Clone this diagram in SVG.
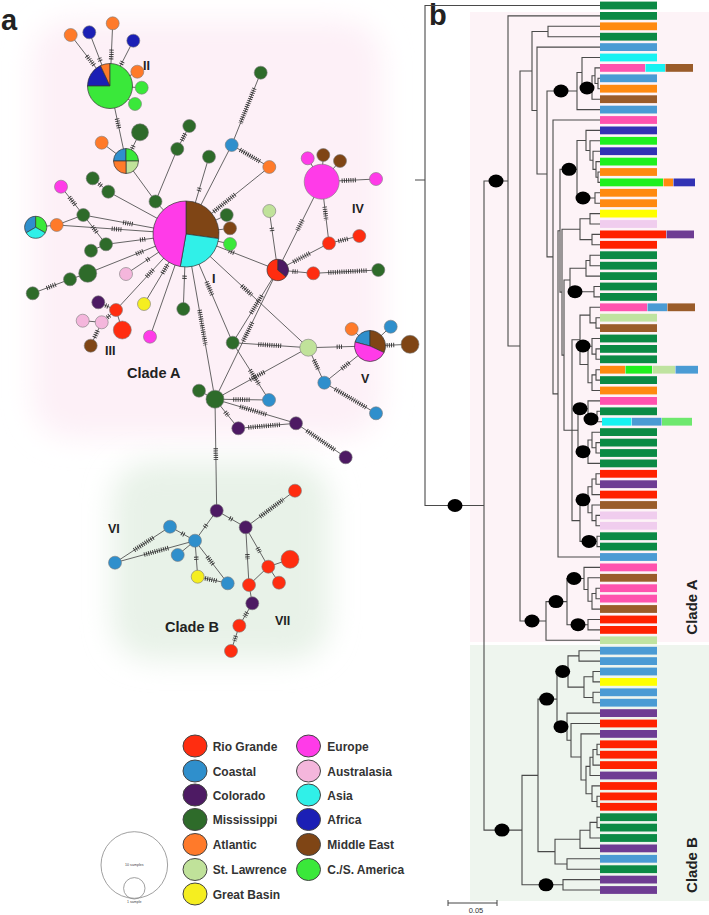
<svg xmlns="http://www.w3.org/2000/svg" width="709" height="915" viewBox="0 0 709 915">
<defs>
<filter id="blur" x="-30%" y="-30%" width="160%" height="160%"><feGaussianBlur stdDeviation="14"/></filter>
<style>
.e{stroke:#555;stroke-width:0.9;fill:none}
.h{stroke:#333;stroke-width:4.5;stroke-dasharray:0.9 1.3;fill:none}
.nd circle,.nd path{stroke:#7a7a7a;stroke-width:0.6}
.pie path{stroke:#333;stroke-width:0.7}
.RG{fill:#ff2d10}.CO{fill:#2f8fcc}.CL{fill:#4d1a63}.MS{fill:#2e6b2a}.AT{fill:#ff7a2a}.SL{fill:#c0e29a}.GB{fill:#f5ee20}
.EU{fill:#ff3be8}.AU{fill:#f4b6dc}.AS{fill:#30f0e8}.AF{fill:#1b1fb5}.ME{fill:#7f4515}.CS{fill:#3ae83a}
.tr{stroke:#4a4a4a;stroke-width:1.1;fill:none}
.dot{fill:#000}
.tMS{fill:#0b8a45}.tAT{fill:#ff8a10}.tCO{fill:#4a9bd4}.tAS{fill:#18f2f2}.tEU{fill:#ff52ae}.tME{fill:#9a5c2a}.tAF{fill:#3232b4}
.tCS{fill:#1ff01f}.tCSL{fill:#6ee86e}.tGB{fill:#ffff00}.tAU{fill:#f0cdee}.tRG{fill:#ff2200}.tCL{fill:#6e3c93}.tSL{fill:#bfe3a0}
.lbl{font-family:"Liberation Sans",Arial,sans-serif;font-weight:bold;fill:#222}
.lg ellipse{stroke:#444;stroke-width:1}
.lgt{font-family:"Liberation Sans",Arial,sans-serif;font-weight:bold;font-size:12px;fill:#333}
</style>
</defs>
<rect width="709" height="915" fill="#fff"/>
<!-- panel a background tints -->
<rect x="32" y="20" width="350" height="418" rx="40" fill="#fdf0f7" filter="url(#blur)"/>
<rect x="112" y="462" width="218" height="198" rx="40" fill="#e8f2e8" filter="url(#blur)"/>
<!-- panel b backgrounds -->
<rect x="470" y="12" width="239" height="630" fill="#fdf3f7"/>
<rect x="470" y="645" width="239" height="256" fill="#eef5ee"/>

<text class="lbl" x="1" y="30" font-size="29">a</text>
<text class="lbl" x="429" y="25" font-size="29">b</text>

<g id="connectors">
<line class="e" x1="110" y1="86" x2="70.7" y2="35"/>
<line class="e" x1="110" y1="86" x2="89.3" y2="32.3"/>
<line class="e" x1="110" y1="86" x2="112.7" y2="23.3"/>
<line class="e" x1="110" y1="86" x2="133.3" y2="40.7"/>
<line class="e" x1="110" y1="86" x2="137.3" y2="71.7"/>
<line class="e" x1="110" y1="86" x2="141.7" y2="87.7"/>
<line class="e" x1="110" y1="86" x2="135" y2="104"/>
<line class="e" x1="110" y1="86" x2="126" y2="161"/>
<line class="e" x1="126" y1="161" x2="101.7" y2="142.7"/>
<line class="e" x1="126" y1="161" x2="140" y2="132.3"/>
<line class="e" x1="126" y1="161" x2="155.5" y2="201.5"/>
<line class="e" x1="189.3" y1="126" x2="177.3" y2="149"/>
<line class="e" x1="177.3" y1="149" x2="155.5" y2="201.5"/>
<line class="e" x1="155.5" y1="201.5" x2="186" y2="234"/>
<line class="e" x1="92.7" y1="178.3" x2="108.3" y2="191.7"/>
<line class="e" x1="108.3" y1="191.7" x2="186" y2="234"/>
<line class="e" x1="83.3" y1="215" x2="61" y2="186.7"/>
<line class="e" x1="83.3" y1="215" x2="56.7" y2="225"/>
<line class="e" x1="56.7" y1="225" x2="35.7" y2="227.3"/>
<line class="e" x1="83.3" y1="215" x2="186" y2="234"/>
<line class="e" x1="56.7" y1="225" x2="186" y2="234"/>
<line class="e" x1="83.3" y1="215" x2="106" y2="244.3"/>
<line class="e" x1="106" y1="244.3" x2="186" y2="234"/>
<line class="e" x1="91" y1="250.7" x2="106" y2="244.3"/>
<line class="e" x1="87.7" y1="273.3" x2="186" y2="234"/>
<line class="e" x1="70" y1="279.3" x2="87.7" y2="273.3"/>
<line class="e" x1="32.7" y1="293.3" x2="70" y2="279.3"/>
<line class="e" x1="126" y1="274" x2="186" y2="234"/>
<line class="e" x1="116" y1="310" x2="186" y2="234"/>
<line class="e" x1="98.3" y1="302.3" x2="116" y2="310"/>
<line class="e" x1="101.7" y1="322.3" x2="116" y2="310"/>
<line class="e" x1="82.7" y1="320.7" x2="101.7" y2="322.3"/>
<line class="e" x1="122.3" y1="330" x2="116" y2="310"/>
<line class="e" x1="90.7" y1="345.7" x2="101.7" y2="322.3"/>
<line class="e" x1="144" y1="304" x2="186" y2="234"/>
<line class="e" x1="150" y1="336.7" x2="186" y2="234"/>
<line class="e" x1="183.3" y1="309" x2="186" y2="234"/>
<line class="e" x1="186" y1="234" x2="226.7" y2="215"/>
<line class="e" x1="186" y1="234" x2="230" y2="228.3"/>
<line class="e" x1="186" y1="234" x2="230" y2="244"/>
<line class="e" x1="209" y1="156.7" x2="186" y2="234"/>
<line class="e" x1="231.7" y1="145" x2="186" y2="234"/>
<line class="e" x1="231.7" y1="145" x2="260.7" y2="72.7"/>
<line class="e" x1="231.7" y1="145" x2="269.3" y2="167"/>
<line class="e" x1="269.3" y1="167" x2="186" y2="234"/>
<line class="e" x1="269.3" y1="211" x2="277.7" y2="270"/>
<line class="e" x1="186" y1="234" x2="277.7" y2="270"/>
<line class="e" x1="321.7" y1="181.7" x2="277.7" y2="270"/>
<line class="e" x1="277.7" y1="270" x2="329" y2="243.3"/>
<line class="e" x1="329" y1="243.3" x2="359.3" y2="236"/>
<line class="e" x1="321.7" y1="181.7" x2="329" y2="243.3"/>
<line class="e" x1="277.7" y1="270" x2="313.3" y2="273.3"/>
<line class="e" x1="313.3" y1="273.3" x2="378.3" y2="270"/>
<line class="e" x1="321.7" y1="181.7" x2="307.7" y2="158.3"/>
<line class="e" x1="321.7" y1="181.7" x2="323.3" y2="155"/>
<line class="e" x1="321.7" y1="181.7" x2="340" y2="161"/>
<line class="e" x1="321.7" y1="181.7" x2="376" y2="179"/>
<line class="e" x1="186" y1="234" x2="232.7" y2="342.7"/>
<line class="e" x1="186" y1="234" x2="215" y2="399.2"/>
<line class="e" x1="186" y1="234" x2="308.3" y2="347.7"/>
<line class="e" x1="232.7" y1="342.7" x2="308.3" y2="347.7"/>
<line class="e" x1="232.7" y1="342.7" x2="269" y2="400"/>
<line class="e" x1="232.7" y1="342.7" x2="277.7" y2="270"/>
<line class="e" x1="215" y1="399.2" x2="277.7" y2="270"/>
<line class="e" x1="215" y1="399.2" x2="199" y2="390.7"/>
<line class="e" x1="215" y1="399.2" x2="308.3" y2="347.7"/>
<line class="e" x1="215" y1="399.2" x2="269" y2="400"/>
<line class="e" x1="215" y1="399.2" x2="296" y2="423.3"/>
<line class="e" x1="215" y1="399.2" x2="238.3" y2="428.3"/>
<line class="e" x1="238.3" y1="428.3" x2="296" y2="423.3"/>
<line class="e" x1="296" y1="423.3" x2="345.7" y2="457.3"/>
<line class="e" x1="308.3" y1="347.7" x2="370" y2="346"/>
<line class="e" x1="308.3" y1="347.7" x2="324.3" y2="382.7"/>
<line class="e" x1="324.3" y1="382.7" x2="370" y2="346"/>
<line class="e" x1="324.3" y1="382.7" x2="376" y2="413.3"/>
<line class="e" x1="370" y1="346" x2="351.7" y2="329"/>
<line class="e" x1="370" y1="346" x2="390.7" y2="326.7"/>
<line class="e" x1="370" y1="346" x2="410" y2="344.3"/>
<line class="e" x1="215" y1="399.2" x2="216.7" y2="510.7"/>
<line class="e" x1="216.7" y1="510.7" x2="245.7" y2="527.3"/>
<line class="e" x1="216.7" y1="510.7" x2="195" y2="540.7"/>
<line class="e" x1="195" y1="540.7" x2="170" y2="526.7"/>
<line class="e" x1="195" y1="540.7" x2="115" y2="562.7"/>
<line class="e" x1="170" y1="526.7" x2="115" y2="562.7"/>
<line class="e" x1="195" y1="540.7" x2="177.7" y2="555"/>
<line class="e" x1="195" y1="540.7" x2="197.7" y2="576.7"/>
<line class="e" x1="195" y1="540.7" x2="227.7" y2="583.3"/>
<line class="e" x1="197.7" y1="576.7" x2="227.7" y2="583.3"/>
<line class="e" x1="245.7" y1="527.3" x2="295" y2="490.7"/>
<line class="e" x1="245.7" y1="527.3" x2="249" y2="585"/>
<line class="e" x1="245.7" y1="527.3" x2="268.3" y2="566.7"/>
<line class="e" x1="268.3" y1="566.7" x2="290" y2="559.3"/>
<line class="e" x1="268.3" y1="566.7" x2="279" y2="582.7"/>
<line class="e" x1="268.3" y1="566.7" x2="249" y2="585"/>
<line class="e" x1="249" y1="585" x2="252.3" y2="603.3"/>
<line class="e" x1="252.3" y1="603.3" x2="239.3" y2="625.7"/>
<line class="e" x1="239.3" y1="625.7" x2="231" y2="651"/>
<!-- mutation hatches -->
<line class="h" x1="94" y1="65.2" x2="86.7" y2="55.8"/>
<line class="h" x1="100.4" y1="61" x2="98.9" y2="57.3"/>
<line class="h" x1="111.6" y1="49.6" x2="111.1" y2="59.7"/>
<line class="h" x1="122.6" y1="61.6" x2="120.7" y2="65.1"/>
<line class="h" x1="117" y1="118.6" x2="119" y2="128.4"/>
<line class="h" x1="132.1" y1="148.5" x2="133.9" y2="144.9"/>
<line class="h" x1="185.2" y1="133.9" x2="181.5" y2="141.1"/>
<line class="h" x1="99" y1="183.7" x2="102" y2="186.3"/>
<line class="h" x1="75.25" y1="204.8" x2="69.05" y2="196.9"/>
<line class="h" x1="123.1" y1="222.4" x2="132.9" y2="224.2"/>
<line class="h" x1="111.7" y1="228.8" x2="121.7" y2="229.5"/>
<line class="h" x1="92.2" y1="226.5" x2="97.1" y2="232.8"/>
<line class="h" x1="140" y1="239.9" x2="146" y2="239.1"/>
<line class="h" x1="136.1" y1="254" x2="143.5" y2="251"/>
<line class="h" x1="46.7" y1="288.1" x2="56" y2="284.5"/>
<line class="h" x1="146.5" y1="260.3" x2="149.9" y2="258.1"/>
<line class="h" x1="146.6" y1="276.8" x2="153.4" y2="269.4"/>
<line class="h" x1="105.3" y1="305.4" x2="109" y2="307"/>
<line class="h" x1="107.3" y1="317.5" x2="110.4" y2="314.8"/>
<line class="h" x1="94.5" y1="337.6" x2="97.9" y2="330.4"/>
<line class="h" x1="162.4" y1="273.3" x2="167.6" y2="264.7"/>
<line class="h" x1="184.4" y1="278.8" x2="184.6" y2="274.8"/>
<line class="h" x1="199.7" y1="188" x2="198.5" y2="191.8"/>
<line class="h" x1="254.4" y1="88.3" x2="240.4" y2="123.3"/>
<line class="h" x1="240" y1="149.8" x2="259.9" y2="161.5"/>
<line class="h" x1="235" y1="194.5" x2="213.3" y2="212"/>
<line class="h" x1="271.7" y1="227.9" x2="272.3" y2="231.9"/>
<line class="h" x1="229" y1="250.9" x2="234.6" y2="253.1"/>
<line class="h" x1="293.3" y1="261.9" x2="310" y2="253.2"/>
<line class="h" x1="338.3" y1="241.1" x2="348.3" y2="238.7"/>
<line class="h" x1="324.7" y1="206.7" x2="326.2" y2="220"/>
<line class="h" x1="292.5" y1="271.4" x2="297.5" y2="271.8"/>
<line class="h" x1="328.3" y1="272.5" x2="366.7" y2="270.6"/>
<line class="h" x1="341.7" y1="180.7" x2="356.7" y2="180"/>
<line class="h" x1="206.6" y1="281.9" x2="212.1" y2="294.8"/>
<line class="h" x1="199.5" y1="310" x2="205.5" y2="345"/>
<line class="h" x1="241.7" y1="285.7" x2="251.7" y2="295.1"/>
<line class="h" x1="258.3" y1="344.4" x2="281.7" y2="345.9"/>
<line class="h" x1="250" y1="370" x2="259.5" y2="385"/>
<line class="h" x1="250.9" y1="313.3" x2="262.2" y2="295"/>
<line class="h" x1="243.2" y1="341.1" x2="252.6" y2="321.7"/>
<line class="h" x1="250" y1="379.9" x2="265" y2="371.6"/>
<line class="h" x1="233.3" y1="399.5" x2="250" y2="399.7"/>
<line class="h" x1="240" y1="406.6" x2="266.7" y2="414.6"/>
<line class="h" x1="225.1" y1="411.8" x2="228.2" y2="415.7"/>
<line class="h" x1="248.3" y1="427.4" x2="280" y2="424.7"/>
<line class="h" x1="306.7" y1="430.6" x2="335" y2="450"/>
<line class="h" x1="336.7" y1="346.9" x2="343.3" y2="346.7"/>
<line class="h" x1="313.9" y1="360" x2="318.5" y2="370.1"/>
<line class="h" x1="341.7" y1="368.7" x2="350" y2="362.1"/>
<line class="h" x1="335" y1="389" x2="366.7" y2="407.8"/>
<line class="h" x1="386.7" y1="345.3" x2="395" y2="345"/>
<line class="h" x1="215.75" y1="448.3" x2="215.9" y2="460"/>
<line class="h" x1="229.5" y1="518" x2="232.9" y2="520"/>
<line class="h" x1="204.7" y1="527.3" x2="207" y2="524.1"/>
<line class="h" x1="184.2" y1="534.7" x2="180.8" y2="532.7"/>
<line class="h" x1="168.3" y1="548" x2="143.3" y2="554.9"/>
<line class="h" x1="153.3" y1="537.6" x2="133.3" y2="550.7"/>
<line class="h" x1="196.2" y1="556.7" x2="196.5" y2="560.7"/>
<line class="h" x1="207.3" y1="556.7" x2="213.6" y2="565"/>
<line class="h" x1="205" y1="578.3" x2="216.7" y2="580.9"/>
<line class="h" x1="260" y1="516.7" x2="283.3" y2="499.4"/>
<line class="h" x1="247.3" y1="554.2" x2="247.5" y2="559.2"/>
<line class="h" x1="257.5" y1="547.8" x2="259.9" y2="552.2"/>
<line class="h" x1="247.05" y1="612.35" x2="244.55" y2="616.65"/>
<line class="h" x1="235.9" y1="635.97" x2="234.4" y2="640.7"/>
<line class="h" x1="302.5" y1="220" x2="297.4" y2="230.3"/>
</g>

<g class="nd">
<g id="node-II" class="pie"><path class="AF" d="M110,86 L87.5,86 A22.5,22.5 0 0 1 100.49,65.61 Z"/><path class="AT" d="M110,86 L100.49,65.61 A22.5,22.5 0 0 1 110,63.5 Z"/><path class="CS" d="M110,86 L110,63.5 A22.5,22.5 0 1 1 87.5,86 Z"/></g>
<g id="n-a1"><circle class="AT" cx="70.7" cy="35" r="6.5"/></g>
<g id="n-a2"><circle class="AF" cx="89.3" cy="32.3" r="6.5"/></g>
<g id="n-a3"><circle class="AT" cx="112.7" cy="23.3" r="6.5"/></g>
<g id="n-a4"><circle class="AF" cx="133.3" cy="40.7" r="6.5"/></g>
<g id="n-a5"><circle class="AT" cx="137.3" cy="71.7" r="6.5"/></g>
<g id="n-a6"><circle class="CS" cx="141.7" cy="87.7" r="6.5"/></g>
<g id="n-a7"><circle class="CS" cx="135" cy="104" r="6.5"/></g>
<g id="node-p4" class="pie"><path class="CO" d="M126,161 L113.5,161 A12.5,12.5 0 0 1 126,148.5 Z"/><path class="CS" d="M126,161 L126,148.5 A12.5,12.5 0 0 1 138.5,161 Z"/><path class="SL" d="M126,161 L138.5,161 A12.5,12.5 0 0 1 126,173.5 Z"/><path class="AT" d="M126,161 L126,173.5 A12.5,12.5 0 0 1 113.5,161 Z"/></g>
<g id="n-a9"><circle class="AT" cx="101.7" cy="142.7" r="6.5"/></g>
<g id="n-a10"><circle class="MS" cx="140" cy="132.3" r="8.5"/></g>
<g id="n-a11"><circle class="MS" cx="189.3" cy="126" r="6.5"/></g>
<g id="n-a12"><circle class="MS" cx="177.3" cy="149" r="6.5"/></g>
<g id="n-a13"><circle class="MS" cx="155.5" cy="201.5" r="6.5"/></g>
<g id="n-a14"><circle class="MS" cx="92.7" cy="178.3" r="6.5"/></g>
<g id="n-a15"><circle class="MS" cx="108.3" cy="191.7" r="6.5"/></g>
<g id="n-a16"><circle class="MS" cx="83.3" cy="215" r="6.5"/></g>
<g id="n-a17"><circle class="EU" cx="61" cy="186.7" r="6.5"/></g>
<g id="n-a18"><circle class="AT" cx="56.7" cy="225" r="6.5"/></g>
<g id="node-p3" class="pie"><path class="CO" d="M35.7,227.3 L26.17,232.8 A11,11 0 0 1 35.7,216.3 Z"/><path class="CS" d="M35.7,227.3 L35.7,216.3 A11,11 0 0 1 45.23,232.8 Z"/><path class="AS" d="M35.7,227.3 L45.23,232.8 A11,11 0 0 1 26.17,232.8 Z"/></g>
<g id="n-a20"><circle class="MS" cx="106" cy="244.3" r="6.5"/></g>
<g id="n-a21"><circle class="MS" cx="91" cy="250.7" r="6.5"/></g>
<g id="n-a22"><circle class="MS" cx="87.7" cy="273.3" r="9"/></g>
<g id="n-a23"><circle class="MS" cx="70" cy="279.3" r="6.5"/></g>
<g id="n-a24"><circle class="MS" cx="32.7" cy="293.3" r="6.5"/></g>
<g id="n-a25"><circle class="AU" cx="126" cy="274" r="6.5"/></g>
<g id="n-a26"><circle class="RG" cx="116" cy="310" r="6.5"/></g>
<g id="n-a27"><circle class="CL" cx="98.3" cy="302.3" r="6.5"/></g>
<g id="n-a28"><circle class="AU" cx="101.7" cy="322.3" r="6.5"/></g>
<g id="n-a29"><circle class="AU" cx="82.7" cy="320.7" r="6.5"/></g>
<g id="n-a30"><circle class="RG" cx="122.3" cy="330" r="9"/></g>
<g id="n-a31"><circle class="ME" cx="90.7" cy="345.7" r="6.5"/></g>
<g id="n-a32"><circle class="GB" cx="144" cy="304" r="6.5"/></g>
<g id="n-a33"><circle class="EU" cx="150" cy="336.7" r="6.5"/></g>
<g id="n-a34"><circle class="MS" cx="183.3" cy="309" r="6.5"/></g>
<g id="node-I" class="pie"><path class="ME" d="M186,234 L186,201 A33,33 0 0 1 218.68,238.59 Z"/><path class="AS" d="M186,234 L218.68,238.59 A33,33 0 0 1 180.27,266.5 Z"/><path class="EU" d="M186,234 L180.27,266.5 A33,33 0 0 1 186,201 Z"/></g>
<g id="n-a53"><circle class="MS" cx="226.7" cy="215" r="6.5"/></g>
<g id="n-a54"><circle class="ME" cx="230" cy="228.3" r="6.5"/></g>
<g id="n-a55"><circle class="CS" cx="230" cy="244" r="6.5"/></g>
<g id="n-a56"><circle class="MS" cx="209" cy="156.7" r="6.5"/></g>
<g id="n-a47"><circle class="CO" cx="231.7" cy="145" r="6.5"/></g>
<g id="n-a57"><circle class="MS" cx="260.7" cy="72.7" r="6.5"/></g>
<g id="n-a48"><circle class="AT" cx="269.3" cy="167" r="6.5"/></g>
<g id="n-a49"><circle class="SL" cx="269.3" cy="211" r="6.5"/></g>
<g id="node-IV"><circle class="EU" cx="321.7" cy="181.7" r="17.5"/></g>
<g id="n-a60"><circle class="EU" cx="307.7" cy="158.3" r="6.5"/></g>
<g id="n-a61"><circle class="ME" cx="323.3" cy="155" r="6.5"/></g>
<g id="n-a62"><circle class="ME" cx="340" cy="161" r="6.5"/></g>
<g id="n-a63"><circle class="EU" cx="376" cy="179" r="6.5"/></g>
<g id="node-rp" class="pie"><path class="CL" d="M277.7,270 L277.7,259.3 A10.7,10.7 0 0 1 285.9,276.88 Z"/><path class="RG" d="M277.7,270 L285.9,276.88 A10.7,10.7 0 1 1 277.7,259.3 Z"/></g>
<g id="n-a43"><circle class="RG" cx="329" cy="243.3" r="6.5"/></g>
<g id="n-a44"><circle class="RG" cx="359.3" cy="236" r="6.5"/></g>
<g id="n-a45"><circle class="RG" cx="313.3" cy="273.3" r="6.5"/></g>
<g id="n-a46"><circle class="MS" cx="378.3" cy="270" r="6.5"/></g>
<g id="n-a37"><circle class="MS" cx="232.7" cy="342.7" r="6.5"/></g>
<g id="n-a38"><circle class="SL" cx="308.3" cy="347.7" r="8.5"/></g>
<g id="node-V" class="pie"><path class="CO" d="M370,346 L355.03,341.99 A15.5,15.5 0 0 1 370,330.5 Z"/><path class="ME" d="M370,346 L370,330.5 A15.5,15.5 0 0 1 384.05,352.55 Z"/><path class="EU" d="M370,346 L384.05,352.55 A15.5,15.5 0 0 1 355.03,341.99 Z"/></g>
<g id="n-a64"><circle class="AT" cx="351.7" cy="329" r="6.5"/></g>
<g id="n-a65"><circle class="CO" cx="390.7" cy="326.7" r="6.5"/></g>
<g id="n-a66"><circle class="ME" cx="410" cy="344.3" r="9"/></g>
<g id="n-a50"><circle class="CO" cx="324.3" cy="382.7" r="6.5"/></g>
<g id="n-a51"><circle class="CO" cx="376" cy="413.3" r="6.5"/></g>
<g id="n-hub"><circle class="MS" cx="215" cy="399.2" r="9"/></g>
<g id="n-a36"><circle class="MS" cx="199" cy="390.7" r="6.5"/></g>
<g id="n-a39"><circle class="CO" cx="269" cy="400" r="6.5"/></g>
<g id="n-a40"><circle class="CL" cx="296" cy="423.3" r="6.5"/></g>
<g id="n-a41"><circle class="CL" cx="238.3" cy="428.3" r="6.5"/></g>
<g id="n-a52"><circle class="CL" cx="345.7" cy="457.3" r="6.5"/></g>
<g id="n-b1"><circle class="CL" cx="216.7" cy="510.7" r="6.5"/></g>
<g id="n-b2"><circle class="CL" cx="245.7" cy="527.3" r="6.5"/></g>
<g id="n-b3"><circle class="RG" cx="295" cy="490.7" r="6.5"/></g>
<g id="n-b4"><circle class="CO" cx="170" cy="526.7" r="6.5"/></g>
<g id="n-b5"><circle class="CO" cx="195" cy="540.7" r="6.5"/></g>
<g id="n-b6"><circle class="CO" cx="115" cy="562.7" r="6.5"/></g>
<g id="n-b7"><circle class="CO" cx="177.7" cy="555" r="6.5"/></g>
<g id="n-b8"><circle class="GB" cx="197.7" cy="576.7" r="6.5"/></g>
<g id="n-b9"><circle class="CO" cx="227.7" cy="583.3" r="6.5"/></g>
<g id="n-b10"><circle class="RG" cx="268.3" cy="566.7" r="6.5"/></g>
<g id="n-b11"><circle class="RG" cx="290" cy="559.3" r="9"/></g>
<g id="n-b12"><circle class="RG" cx="279" cy="582.7" r="6.5"/></g>
<g id="n-b13"><circle class="RG" cx="249" cy="585" r="6.5"/></g>
<g id="n-b14"><circle class="CL" cx="252.3" cy="603.3" r="6.5"/></g>
<g id="n-b15"><circle class="RG" cx="239.3" cy="625.7" r="6.5"/></g>
<g id="n-b16"><circle class="RG" cx="231" cy="651" r="6.5"/></g>
</g>

<g id="network-labels" class="lbl" font-size="12.5">
<text x="143" y="70">II</text>
<text x="212" y="283">I</text>
<text x="105" y="355">III</text>
<text x="352" y="213">IV</text>
<text x="361" y="383">V</text>
<text x="108" y="533">VI</text>
<text x="275" y="625">VII</text>
<text x="127" y="378" font-size="14.5">Clade A</text>
<text x="165" y="632" font-size="14.5">Clade B</text>
</g>

<g id="legend" class="lg">
<ellipse class="RG" cx="195" cy="746" rx="12" ry="11"/>
<ellipse class="CO" cx="195" cy="771" rx="12" ry="11"/>
<ellipse class="CL" cx="195" cy="795" rx="12" ry="11"/>
<ellipse class="MS" cx="195" cy="819.5" rx="12" ry="11"/>
<ellipse class="AT" cx="195" cy="844.5" rx="12" ry="11"/>
<ellipse class="SL" cx="195" cy="869.5" rx="12" ry="11"/>
<ellipse class="GB" cx="195" cy="894" rx="12" ry="11"/>
<ellipse class="EU" cx="308.5" cy="746" rx="12" ry="11"/>
<ellipse class="AU" cx="308.5" cy="771" rx="12" ry="11"/>
<ellipse class="AS" cx="308.5" cy="795" rx="12" ry="11"/>
<ellipse class="AF" cx="308.5" cy="819.5" rx="12" ry="11"/>
<ellipse class="ME" cx="308.5" cy="844.5" rx="12" ry="11"/>
<ellipse class="CS" cx="308.5" cy="869.5" rx="12" ry="11"/>
<text class="lgt" x="212.7" y="750.5">Rio Grande</text>
<text class="lgt" x="212.7" y="775.5">Coastal</text>
<text class="lgt" x="212.7" y="799.5">Colorado</text>
<text class="lgt" x="212.7" y="824">Mississippi</text>
<text class="lgt" x="212.7" y="849">Atlantic</text>
<text class="lgt" x="212.7" y="874">St. Lawrence</text>
<text class="lgt" x="212.7" y="898.5">Great Basin</text>
<text class="lgt" x="327.3" y="750.5">Europe</text>
<text class="lgt" x="327.3" y="775.5">Australasia</text>
<text class="lgt" x="327.3" y="799.5">Asia</text>
<text class="lgt" x="327.3" y="824">Africa</text>
<text class="lgt" x="327.3" y="849">Middle East</text>
<text class="lgt" x="327.3" y="874">C./S. America</text>
</g>
<g id="size-legend">
<circle cx="134.3" cy="865" r="33.3" fill="none" stroke="#888" stroke-width="0.8"/>
<circle cx="134.3" cy="888.3" r="10.7" fill="none" stroke="#888" stroke-width="0.8"/>
<text x="134.3" y="866" font-family="Liberation Sans, Arial, sans-serif" font-size="3.6" text-anchor="middle" fill="#444">10 samples</text>
<text x="134.3" y="902.5" font-family="Liberation Sans, Arial, sans-serif" font-size="3.6" text-anchor="middle" fill="#444">1 sample</text>
</g>

<g id="tree">
<path class="tr" d="M415,180H425 M600,5.5H425V505.5H484 M508,180.95H484V830.1H522 M600,15.9H508V346H520 M532,71H520V620.95H546 M548,31.5H532V110.55H537 M600,26.3H548V36.7H600 M600,47.1H537V174H547 M577,91.05H547V256.9H553 M582,72.5H577V109.6H600 M600,57.5H582V87.45H592 M595,75.7H592V99.2H600 M600,67.9H595V83.5H598 M600,78.3H598V88.7H600
M600,120H553V393.85H558 M560,230.7H558V557H600 M577,169.25H560V292.15H562 M586,140.5H577V198H595 M600,130.4H586V150.55H590 M600,140.8H590V160.3H593 M600,151.2H593V169.4H596 M600,161.6H596V177.2H598 M600,172H598V182.4H600 M600,192.8H595V203.2H600
M580,229.2H562V355.1H564 M590,218.8H580V239.6H592 M600,213.6H590V224H600 M600,234.4H592V244.8H600
M570,280H564V430.2H572 M586,268.3H570V291.7H594 M590,260.45H586V276.1H600 M600,255.2H590V265.7H600 M600,286.5H594V296.9H600
M580,339.8H572V520.6H580 M572,430.2H578 M590,315.1H580V364.5H588 M600,307.3H590V322.9H596 M600,317.7H596V328.1H600 M592,346.3H588V382.7H592 M600,338.5H592V354.1H596 M600,348.9H596V359.3H600 M596,374.9H592V390.5H600 M600,369.7H596V380.1H600
M588,408.7H578V451.7H588 M600,400.9H588V416.5H597 M600,411.3H597V421.7H602 M592,440H588V463.4H600 M600,432.2H592V447.8H596 M600,442.6H596V453H600
M588,499.8H580V541.4H597 M592,486.8H588V512.8H592 M596,479H592V494.6H600 M600,473.8H596V484.2H600 M600,505H592V520.6H596 M600,515.4H596V525.8H600 M600,536.2H597V546.6H600
M567,601.6H546V640.3H600 M584,578.5H567V624.7H588 M600,567.4H584V589.55H588 M600,577.8H588V601.3H592 M596,593.45H592V609.1H600 M600,588.2H596V598.7H600 M600,619.5H588V629.9H600
M538,775.4H522V884.8H563 M557,699.1H538V851.65H555 M568,671.5H557V726.67H567 M579,655.9H568V687.1H584 M600,650.7H579V661.1H600 M593,676.7H584V697.5H593 M600,671.5H593V681.9H600 M600,692.3H593V702.7H600
M600,713.1H567V740.24H571 M600,723.5H571V756.98H581 M600,733.9H581V780.05H586 M590,766.4H586V793.7H592 M593,757.3H590V775.5H600 M597,749.5H593V765.1H600 M600,744.3H597V754.7H600 M600,785.9H592V801.5H597 M600,796.3H597V806.7H600
M580,839.3H555V864H567 M590,830.2H580V848.4H600 M597,822.4H590V838H600 M600,817.2H597V827.6H600 M600,858.8H567V869.2H600 M600,879.6H563V890H600"/>
<g class="dot">
<ellipse cx="496" cy="181" rx="7.5" ry="6.5"/>
<ellipse cx="561" cy="91" rx="7.5" ry="6.5"/>
<ellipse cx="587" cy="88" rx="7.5" ry="6.5"/>
<ellipse cx="569" cy="169.3" rx="7.5" ry="6.5"/>
<ellipse cx="583" cy="198" rx="7.5" ry="6.5"/>
<ellipse cx="575" cy="291.7" rx="7.5" ry="6.5"/>
<ellipse cx="583" cy="346" rx="7.5" ry="6.5"/>
<ellipse cx="580" cy="408.7" rx="7.5" ry="6.5"/>
<ellipse cx="591" cy="419" rx="7.5" ry="6.5"/>
<ellipse cx="583" cy="451.7" rx="7.5" ry="6.5"/>
<ellipse cx="583" cy="499.8" rx="7.5" ry="6.5"/>
<ellipse cx="589" cy="541.4" rx="7.5" ry="6.5"/>
<ellipse cx="455" cy="505.5" rx="7.5" ry="6.5"/>
<ellipse cx="574" cy="578.5" rx="7.5" ry="6.5"/>
<ellipse cx="556" cy="601.6" rx="7.5" ry="6.5"/>
<ellipse cx="532" cy="621" rx="7.5" ry="6.5"/>
<ellipse cx="578" cy="624.7" rx="7.5" ry="6.5"/>
<ellipse cx="562.7" cy="671.5" rx="7.5" ry="6.5"/>
<ellipse cx="546.7" cy="699.1" rx="7.5" ry="6.5"/>
<ellipse cx="561" cy="726.7" rx="7.5" ry="6.5"/>
<ellipse cx="502" cy="830.1" rx="7.5" ry="6.5"/>
<ellipse cx="546" cy="884.8" rx="7.5" ry="6.5"/>
</g>
</g>

<g id="bars">
<rect class="tMS" x="600" y="1.6" width="57" height="7.8"/>
<rect class="tMS" x="600" y="12" width="57" height="7.8"/>
<rect class="tAT" x="600" y="22.4" width="57" height="7.8"/>
<rect class="tMS" x="600" y="32.8" width="57" height="7.8"/>
<rect class="tCO" x="600" y="43.2" width="57" height="7.8"/>
<rect class="tAS" x="600" y="53.6" width="57" height="7.8"/>
<rect class="tEU" x="600" y="64" width="45" height="7.8"/><rect class="tAS" x="645.5" y="64" width="19.5" height="7.8"/><rect class="tME" x="665.5" y="64" width="27.5" height="7.8"/>
<rect class="tCO" x="600" y="74.4" width="57" height="7.8"/>
<rect class="tAT" x="600" y="84.8" width="57" height="7.8"/>
<rect class="tME" x="600" y="95.3" width="57" height="7.8"/>
<rect class="tCO" x="600" y="105.7" width="57" height="7.8"/>
<rect class="tEU" x="600" y="116.1" width="57" height="7.8"/>
<rect class="tAF" x="600" y="126.5" width="57" height="7.8"/>
<rect class="tCS" x="600" y="136.9" width="57" height="7.8"/>
<rect class="tAF" x="600" y="147.3" width="57" height="7.8"/>
<rect class="tCS" x="600" y="157.7" width="57" height="7.8"/>
<rect class="tAT" x="600" y="168.1" width="57" height="7.8"/>
<rect class="tCS" x="600" y="178.5" width="63" height="7.8"/><rect class="tAT" x="663.5" y="178.5" width="9.5" height="7.8"/><rect class="tAF" x="673.5" y="178.5" width="21.5" height="7.8"/>
<rect class="tAT" x="600" y="188.9" width="57" height="7.8"/>
<rect class="tAT" x="600" y="199.3" width="57" height="7.8"/>
<rect class="tGB" x="600" y="209.7" width="57" height="7.8"/>
<rect class="tAU" x="600" y="220.1" width="57" height="7.8"/>
<rect class="tRG" x="600" y="230.5" width="66" height="7.8"/><rect class="tCL" x="666.5" y="230.5" width="27.5" height="7.8"/>
<rect class="tRG" x="600" y="240.9" width="57" height="7.8"/>
<rect class="tMS" x="600" y="251.3" width="57" height="7.8"/>
<rect class="tMS" x="600" y="261.8" width="57" height="7.8"/>
<rect class="tMS" x="600" y="272.2" width="57" height="7.8"/>
<rect class="tMS" x="600" y="282.6" width="57" height="7.8"/>
<rect class="tMS" x="600" y="293" width="57" height="7.8"/>
<rect class="tEU" x="600" y="303.4" width="47" height="7.8"/><rect class="tCO" x="647.5" y="303.4" width="19.5" height="7.8"/><rect class="tME" x="667.5" y="303.4" width="27.5" height="7.8"/>
<rect class="tSL" x="600" y="313.8" width="57" height="7.8"/>
<rect class="tME" x="600" y="324.2" width="57" height="7.8"/>
<rect class="tMS" x="600" y="334.6" width="57" height="7.8"/>
<rect class="tMS" x="600" y="345" width="57" height="7.8"/>
<rect class="tMS" x="600" y="355.4" width="57" height="7.8"/>
<rect class="tAT" x="600" y="365.8" width="25" height="7.8"/><rect class="tCS" x="625.5" y="365.8" width="26.5" height="7.8"/><rect class="tSL" x="652.5" y="365.8" width="22.5" height="7.8"/><rect class="tCO" x="675.5" y="365.8" width="22.5" height="7.8"/>
<rect class="tMS" x="600" y="376.2" width="57" height="7.8"/>
<rect class="tAT" x="600" y="386.6" width="57" height="7.8"/>
<rect class="tEU" x="600" y="397" width="57" height="7.8"/>
<rect class="tMS" x="600" y="407.4" width="57" height="7.8"/>
<rect class="tAS" x="602" y="417.8" width="29.5" height="7.8"/><rect class="tCO" x="632" y="417.8" width="29.5" height="7.8"/><rect class="tCSL" x="662" y="417.8" width="30" height="7.8"/>
<rect class="tMS" x="600" y="428.2" width="57" height="7.8"/>
<rect class="tMS" x="600" y="438.7" width="57" height="7.8"/>
<rect class="tMS" x="600" y="449.1" width="57" height="7.8"/>
<rect class="tMS" x="600" y="459.5" width="57" height="7.8"/>
<rect class="tRG" x="600" y="469.9" width="57" height="7.8"/>
<rect class="tCL" x="600" y="480.3" width="57" height="7.8"/>
<rect class="tRG" x="600" y="490.7" width="57" height="7.8"/>
<rect class="tME" x="600" y="501.1" width="57" height="7.8"/>
<rect class="tAU" x="600" y="511.5" width="57" height="7.8"/>
<rect class="tAU" x="600" y="521.9" width="57" height="7.8"/>
<rect class="tMS" x="600" y="532.3" width="57" height="7.8"/>
<rect class="tMS" x="600" y="542.7" width="57" height="7.8"/>
<rect class="tCO" x="600" y="553.1" width="57" height="7.8"/>
<rect class="tEU" x="600" y="563.5" width="57" height="7.8"/>
<rect class="tME" x="600" y="573.9" width="57" height="7.8"/>
<rect class="tEU" x="600" y="584.3" width="57" height="7.8"/>
<rect class="tEU" x="600" y="594.7" width="57" height="7.8"/>
<rect class="tME" x="600" y="605.1" width="57" height="7.8"/>
<rect class="tRG" x="600" y="615.6" width="57" height="7.8"/>
<rect class="tRG" x="600" y="626" width="57" height="7.8"/>
<rect class="tSL" x="600" y="636.4" width="57" height="7.8"/>
<rect class="tCO" x="600" y="646.8" width="57" height="7.8"/>
<rect class="tCO" x="600" y="657.2" width="57" height="7.8"/>
<rect class="tCO" x="600" y="667.6" width="57" height="7.8"/>
<rect class="tGB" x="600" y="678" width="57" height="7.8"/>
<rect class="tCO" x="600" y="688.4" width="57" height="7.8"/>
<rect class="tCO" x="600" y="698.8" width="57" height="7.8"/>
<rect class="tCL" x="600" y="709.2" width="57" height="7.8"/>
<rect class="tRG" x="600" y="719.6" width="57" height="7.8"/>
<rect class="tCL" x="600" y="730" width="57" height="7.8"/>
<rect class="tRG" x="600" y="740.4" width="57" height="7.8"/>
<rect class="tRG" x="600" y="750.8" width="57" height="7.8"/>
<rect class="tRG" x="600" y="761.2" width="57" height="7.8"/>
<rect class="tCL" x="600" y="771.6" width="57" height="7.8"/>
<rect class="tRG" x="600" y="782.1" width="57" height="7.8"/>
<rect class="tRG" x="600" y="792.5" width="57" height="7.8"/>
<rect class="tRG" x="600" y="802.9" width="57" height="7.8"/>
<rect class="tMS" x="600" y="813.3" width="57" height="7.8"/>
<rect class="tMS" x="600" y="823.7" width="57" height="7.8"/>
<rect class="tMS" x="600" y="834.1" width="57" height="7.8"/>
<rect class="tCL" x="600" y="844.5" width="57" height="7.8"/>
<rect class="tCO" x="600" y="854.9" width="57" height="7.8"/>
<rect class="tMS" x="600" y="865.3" width="57" height="7.8"/>
<rect class="tCL" x="600" y="875.7" width="57" height="7.8"/>
<rect class="tCL" x="600" y="886.1" width="57" height="7.8"/>
</g>

<g id="clade-labels" class="lbl" font-size="15">
<text x="697" y="607" text-anchor="middle" transform="rotate(-90 697 607)">Clade A</text>
<text x="697" y="865" text-anchor="middle" transform="rotate(-90 697 865)">Clade B</text>
</g>
<g id="scale-bar">
<path d="M448,903H497 M448,900V906 M497,900V906" stroke="#444" stroke-width="1" fill="none"/>
<text x="476" y="913" font-family="Liberation Sans, Arial, sans-serif" font-size="7.5" text-anchor="middle" fill="#333">0.05</text>
</g>
</svg>
